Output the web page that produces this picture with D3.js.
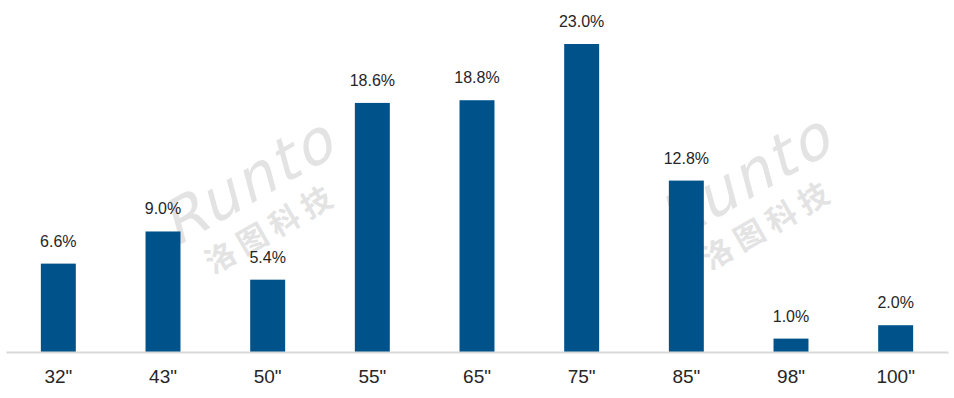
<!DOCTYPE html>
<html>
<head>
<meta charset="utf-8">
<script src="https://cdn.jsdelivr.net/npm/d3@7"></script>
<style>
  body { margin: 0; background: #fff; }
  svg { display: block; font-family: "Liberation Sans", Arial, sans-serif; }
</style>
</head>
<body>
<script>
let sizes = ['32"', '43"', '50"', '55"', '65"', '75"', '85"', '98"', '100"'];
let shares = [6.6, 9.0, 5.4, 18.6, 18.8, 23.0, 12.8, 1.0, 2.0];

let w = 954, h = 398;
let base = 352;

let svg = d3.select('body')
    .append('svg')
    .attr('width', w)
    .attr('height', h);

// watermark logos
let marks = [[258, 200], [755, 196]];
marks.forEach(m => {
    let g = svg.append('g')
        .attr('transform', `translate(${m[0]},${m[1]}) rotate(-30)`)
        .attr('fill', '#e3e3e3');
    g.append('text')
        .text('Runto')
        .attr('x', 0).attr('y', 0)
        .attr('text-anchor', 'middle')
        .attr('transform', 'skewX(-15)')
        .style('font-size', '60px')
        .style('font-family', '"DejaVu Sans", sans-serif')
        .style('letter-spacing', '3px');
    g.append('text')
        .text('洛 图 科 技')
        .attr('x', -6).attr('y', 42)
        .attr('text-anchor', 'middle')
        .style('font-size', '30px')
        .style('font-weight', 'bold')
        .style('font-family', '"Noto Sans CJK SC", sans-serif');
});

let x = d3.scaleBand()
    .domain(sizes)
    .range([6, 948])
    .paddingInner(0.666)
    .paddingOuter(0.333);

let y = d3.scaleLinear()
    .domain([0, 23])
    .range([base, 44]);

svg.selectAll('.bar')
    .data(sizes)
    .enter()
    .append('rect')
    .attr('class', 'bar')
    .attr('x', d => x(d))
    .attr('y', (d, i) => y(shares[i]))
    .attr('width', x.bandwidth())
    .attr('height', (d, i) => base - y(shares[i]))
    .attr('fill', '#00528a');

svg.selectAll('.val')
    .data(sizes)
    .enter()
    .append('text')
    .attr('class', 'val')
    .text((d, i) => shares[i].toFixed(1) + '%')
    .attr('x', d => x(d) + x.bandwidth() / 2)
    .attr('y', (d, i) => y(shares[i]) - 17)
    .attr('text-anchor', 'middle')
    .attr('fill', '#262626')
    .style('font-size', '16px');

let xAxis = svg.append('g')
    .attr('transform', `translate(0,${base})`)
    .call(d3.axisBottom(x).tickSize(0).tickPadding(18));

xAxis.select('.domain')
    .attr('stroke', '#d9d9d9')
    .attr('stroke-width', 2);

xAxis.selectAll('text')
    .attr('fill', '#262626')
    .style('font-size', '19px')
    .style('font-family', '"Liberation Sans", Arial, sans-serif');
</script>
</body>
</html>
